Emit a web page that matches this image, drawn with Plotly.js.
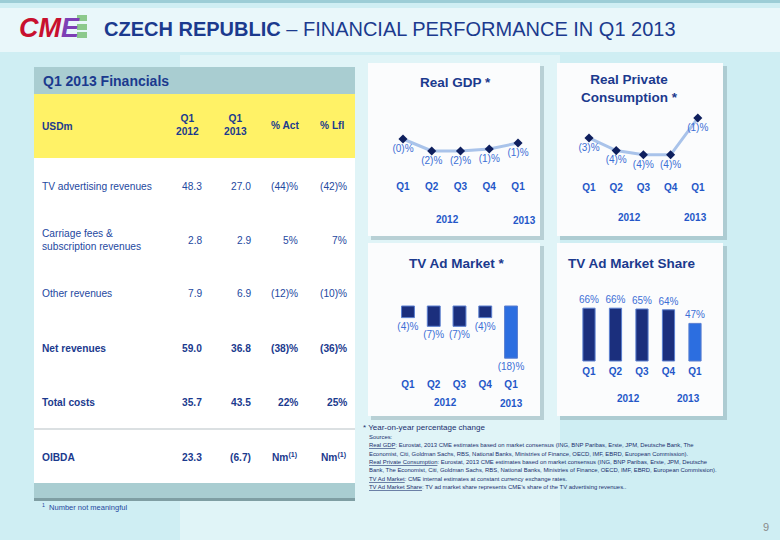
<!DOCTYPE html>
<html>
<head>
<meta charset="utf-8">
<script src="https://cdn.plot.ly/plotly-3.0.1.min.js"></script>
<style>html,body{margin:0;padding:0;background:#cdeef3;}#chart{width:780px;height:540px;}</style>
</head>
<body>
<div id="chart"></div>
<script>
// ---------- DATA ----------
const quarters = ['Q1', 'Q2', 'Q3', 'Q4', 'Q1'];
const years = ['2012', '2013'];

const gdpValues = [-0.4, -1.6, -1.6, -1.4, -0.8];
const gdpLabels = ['(0)%', '(2)%', '(2)%', '(1)%', '(1)%'];

const consValues = [-2.7, -3.9, -4.3, -4.3, -0.8];
const consLabels = ['(3)%', '(4)%', '(4)%', '(4)%', '(1)%'];

const adMarketValues = [-4, -7, -7, -4, -18];
const adMarketLabels = ['(4)%', '(7)%', '(7)%', '(4)%', '(18)%'];

const shareValues = [66, 66, 65, 64, 47];
const shareLabels = ['66%', '66%', '65%', '64%', '47%'];

const tableHeader = ['USDm', 'Q1<br>2012', 'Q1<br>2013', '% Act', '% Lfl'];
const rowLabels = ['TV advertising revenues', 'Carriage fees &<br>subscription revenues', 'Other revenues', 'Net revenues', 'Total costs', 'OIBDA'];
const q1_2012 = [48.3, 2.8, 7.9, 59.0, 35.7, 23.3];
const q1_2013 = [27.0, 2.9, 6.9, 36.8, 43.5, -6.7];
const pctAct = [-44, 5, -12, -38, 22, null];
const pctLfl = [-42, 7, -10, -36, 25, null];
const boldRows = [false, false, false, true, true, true];

const sourceLines = [
  'Sources:',
  '<u>Real GDP</u>: Eurostat, 2013 CME estimates based on market consensus (ING, BNP Paribas, Erste, JPM, Deutsche Bank, The',
  'Economist, Citi, Goldman Sachs, RBS, National Banks, Ministries of Finance, OECD, IMF, EBRD, European Commission).',
  '<u>Real Private Consumption</u>: Eurostat, 2013 CME estimates based on market consensus (ING, BNP Paribas, Erste, JPM, Deutsche',
  'Bank, The Economist, Citi, Goldman Sachs, RBS, National Banks, Ministries of Finance, OECD, IMF, EBRD, European Commission).',
  '<u>TV Ad Market</u>: CME internal estimates at constant currency exchange rates.',
  '<u>TV Ad Market Share</u>: TV ad market share represents CME\u2019s share of the TV advertising revenues..'
];

// ---------- HELPERS ----------
const W = 780, H = 540;
const X = px => px / W;
const Y = py => 1 - py / H;
const FONT = 'Liberation Sans, Arial, sans-serif';
const DARK = '#1b3a8e';
const TXT = '#2448a0';
const QCOL = '#2457c8';
const LCOL = '#3b6fd6';
const idx = quarters.map((q, i) => i);

function fmtNum(v) { return v < 0 ? '(' + Math.abs(v).toFixed(1) + ')' : v.toFixed(1); }
function fmtPct(v) { if (v === null) return 'Nm<sup>(1)</sup>'; return v < 0 ? '(' + Math.abs(v) + ')%' : v + '%'; }

const shapes = [];
const ann = [];
function rect(x0, y0, x1, y1, color, extra) {
  shapes.push(Object.assign({type: 'rect', xref: 'paper', yref: 'paper', x0: X(x0), x1: X(x1), y0: Y(y1), y1: Y(y0),
    fillcolor: color, line: {width: 0}, layer: 'below'}, extra || {}));
}
function text(t, x, y, opt) {
  opt = opt || {};
  ann.push({text: t, x: X(x), y: Y(y), xref: 'paper', yref: 'paper', showarrow: false,
    xanchor: opt.xa || 'left', yanchor: opt.ya || 'middle', align: opt.align || (opt.xa || 'left'),
    font: {family: opt.family || FONT, size: opt.size || 11, color: opt.color || TXT, weight: opt.weight || 'normal'}});
}

// ---------- BACKGROUND ----------
rect(0, 0, 780, 540, '#cfeef3');
rect(180, 55, 560, 540, 'rgba(255,255,255,0.35)');
rect(0, 8, 780, 52, 'rgba(255,255,255,0.55)');
rect(0, 0, 780, 3, '#9ccdd6');

// logo
text('<i><b><span style="color:#c8102e">CM</span><span style="color:#7d3fb5">E</span></b></i>', 49, 28, {xa: 'center', size: 27});
rect(77, 15, 87, 21, '#8cc98c'); rect(77, 24, 87, 30, '#8cc98c'); rect(77, 32, 87, 38, '#8cc98c');

// title
text('<b>CZECH REPUBLIC</b> \u2013 FINANCIAL PERFORMANCE IN Q1 2013', 102, 29, {size: 20, color: DARK});

// ---------- TABLE ----------
rect(34, 67, 355, 501, '#a9cdd1');
rect(34, 498, 355, 501, '#7f9ea3');
rect(34, 94, 355, 158, '#fff266');
rect(34, 158, 355, 483, '#ffffff');
shapes.push({type: 'line', xref: 'paper', yref: 'paper', x0: X(34), x1: X(355), y0: Y(429), y1: Y(429), line: {color: '#cfd6d8', width: 1.5}});
text('<b>Q1 2013 Financials</b>', 41, 81, {size: 14, color: DARK});

const colRight = [204, 253, 300, 349];
const colCenter = [187, 236, 285, 332];
text('<b>' + tableHeader[0] + '</b>', 40, 127, {size: 10.2, color: DARK});
for (let c = 1; c < tableHeader.length; c++) {
  text('<b>' + tableHeader[c] + '</b>', colCenter[c - 1], 125, {xa: 'center', size: 10.2, color: DARK});
}
const rowY = [186, 240, 293, 348, 402, 457];
rowLabels.forEach((lab, r) => {
  const b = boldRows[r];
  const wrap = s => b ? '<b>' + s + '</b>' : s;
  const col = b ? DARK : TXT;
  text(wrap(lab), 40, rowY[r], {size: 10.2, color: col});
  const vals = [fmtNum(q1_2012[r]), fmtNum(q1_2013[r]), fmtPct(pctAct[r]), fmtPct(pctLfl[r])];
  vals.forEach((v, c) => text(wrap(v), colRight[c], rowY[r], {xa: 'right', size: 10.2, color: col}));
});
text('<sup>1</sup>  Number not meaningful', 40, 507, {size: 7.5, color: TXT});

// ---------- PANELS ----------
const panels = [[368, 63, 540, 236], [557, 63, 723, 236], [368, 243, 540, 416], [557, 243, 723, 416]];
panels.forEach(p => {
  rect(p[0] + 3, p[1] + 3, p[2] + 4, p[3] + 4, 'rgba(110,140,150,0.35)');
  rect(p[0], p[1], p[2], p[3], '#fbfcfd');
});

// chart titles
text('<b>Real GDP *</b>', 455, 83, {xa: 'center', size: 13.5, color: DARK});
text('<b>Real Private<br>Consumption *</b>', 629, 89, {xa: 'center', size: 13.5, color: DARK});
text('<b>TV Ad Market *</b>', 457, 263, {xa: 'center', size: 13.5, color: DARK});
text('<b>TV Ad Market Share</b>', 632, 263, {xa: 'center', size: 13.5, color: DARK});

// year labels
text('<b>' + years[0] + '</b>', 448, 219, {xa: 'center', size: 10, color: QCOL});
text('<b>' + years[1] + '</b>', 524, 220, {xa: 'center', size: 10, color: QCOL});
text('<b>' + years[0] + '</b>', 629, 218, {xa: 'center', size: 10, color: QCOL});
text('<b>' + years[1] + '</b>', 695, 218, {xa: 'center', size: 10, color: QCOL});
text('<b>' + years[0] + '</b>', 445, 402, {xa: 'center', size: 10, color: QCOL});
text('<b>' + years[1] + '</b>', 511, 403, {xa: 'center', size: 10, color: QCOL});
text('<b>' + years[0] + '</b>', 628, 398, {xa: 'center', size: 10, color: QCOL});
text('<b>' + years[1] + '</b>', 688, 398, {xa: 'center', size: 10, color: QCOL});

// footnotes
text('* Year-on-year percentage change', 361, 427, {size: 8, color: '#1a2f6e'});
sourceLines.forEach((s, i) => text(s, 367, 437 + i * 8.3, {size: 5.9, color: '#1a2f6e'}));
text('9', 766, 527, {xa: 'center', size: 11, color: '#8a8a8a'});

// ---------- TRACES ----------
const traces = [
  {type: 'scatter', mode: 'lines+markers+text', x: idx, y: gdpValues, text: gdpLabels,
   textposition: 'bottom center', textfont: {family: FONT, size: 10, color: LCOL},
   line: {color: '#a9c3ea', width: 3}, marker: {symbol: 'diamond', size: 7, color: '#0e1f5e'},
   xaxis: 'x', yaxis: 'y', cliponaxis: false, hoverinfo: 'skip'},
  {type: 'scatter', mode: 'lines+markers+text', x: idx, y: consValues, text: consLabels,
   textposition: ['bottom center', 'bottom center', 'bottom center', 'bottom center', 'bottom center'],
   textfont: {family: FONT, size: 10, color: LCOL},
   line: {color: '#a9c3ea', width: 3}, marker: {symbol: 'diamond', size: 7, color: '#0e1f5e'},
   xaxis: 'x2', yaxis: 'y2', cliponaxis: false, hoverinfo: 'skip'},
  {type: 'bar', x: idx, y: adMarketValues, text: adMarketLabels, textposition: 'outside', constraintext: 'none',
   textfont: {family: FONT, size: 10, color: LCOL}, width: 0.5,
   marker: {color: ['#1b2f7d', '#1b2f7d', '#1b2f7d', '#1b2f7d', '#2c6ee0'], line: {color: '#5a7fd0', width: 1}},
   xaxis: 'x3', yaxis: 'y3', cliponaxis: false, hoverinfo: 'skip'},
  {type: 'bar', x: idx, y: shareValues, text: shareLabels, textposition: 'outside', constraintext: 'none',
   textfont: {family: FONT, size: 10, color: LCOL}, width: 0.46,
   marker: {color: ['#1b2f7d', '#1b2f7d', '#1b2f7d', '#1b2f7d', '#2c6ee0'], line: {color: '#5a7fd0', width: 1}},
   xaxis: 'x4', yaxis: 'y4', cliponaxis: false, hoverinfo: 'skip'}
];

function xax(x0, x1, anchor) {
  return {domain: [X(x0), X(x1)], range: [-0.5, 4.5], tickvals: idx, ticktext: quarters, anchor: anchor,
    showgrid: false, zeroline: false, showline: false, ticks: '', fixedrange: true,
    tickfont: {family: FONT, size: 10, color: QCOL, weight: 'bold'}};
}
function yax(top, bottom, range, anchor) {
  return {domain: [Y(bottom), Y(top)], range: range, visible: false, fixedrange: true, anchor: anchor};
}

const layout = {
  width: W, height: H, margin: {l: 0, r: 0, t: 0, b: 0},
  paper_bgcolor: '#cfeef3', plot_bgcolor: 'rgba(0,0,0,0)',
  showlegend: false, font: {family: FONT},
  xaxis: xax(388.6, 532.4, 'y'), yaxis: yax(110, 179, [-4.4, 2.5], 'x'),
  xaxis2: xax(575.4, 711.4, 'y2'), yaxis2: yax(105, 180, [-6.7, 0.44], 'x2'),
  xaxis3: xax(395.1, 523.9, 'y3'), yaxis3: yax(290, 377, [-24.48, 5.52], 'x3'),
  xaxis4: xax(575.75, 708.25, 'y4'), yaxis4: yax(285, 364, [-3.75, 95], 'x4'),
  shapes: shapes, annotations: ann
};

Plotly.newPlot('chart', traces, layout, {displayModeBar: false, staticPlot: true});
</script>
</body>
</html>
